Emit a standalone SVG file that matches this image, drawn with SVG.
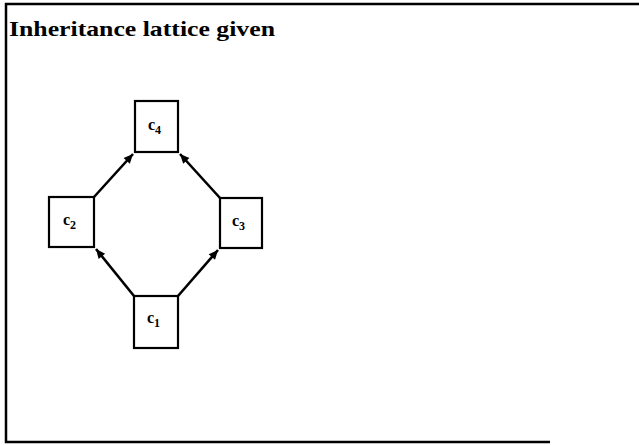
<svg xmlns="http://www.w3.org/2000/svg" width="639" height="445" viewBox="0 0 639 445">
<style>
.frame{fill:none;stroke:#000;stroke-width:2.5}
.box{fill:#fff;stroke:#000;stroke-width:2.2}
.edge{stroke:#000;stroke-width:2.6;fill:none;marker-end:url(#ah)}
.title{font-family:"Liberation Serif",serif;font-weight:bold;font-size:22px;fill:#000}
.lbl{font-family:"Liberation Serif",serif;font-weight:bold;font-size:16px;fill:#000}
.sub{font-size:12px}
</style>
<defs>
<marker id="ah" viewBox="0 0 10 10" refX="10" refY="5" markerWidth="4" markerHeight="3.6" orient="auto" markerUnits="strokeWidth">
<path d="M0,0.5 L10,5 L0,9.5 z" fill="#000"/>
</marker>
</defs>
<rect width="639" height="445" fill="#fff"/>
<path class="frame" d="M639,4 H6 V442 H550"/>
<text class="title" x="9" y="36" textLength="266" lengthAdjust="spacingAndGlyphs">Inheritance lattice given</text>
<g id="connectors">
<line class="edge" x1="134" y1="296" x2="96" y2="249"/>
<line class="edge" x1="178" y1="296" x2="218" y2="250"/>
<line class="edge" x1="94" y1="197" x2="133" y2="154"/>
<line class="edge" x1="220" y1="198" x2="180" y2="154"/>
</g>
<g id="c4"><rect class="box" x="135" y="101" width="43" height="51"/><text class="lbl" x="148" y="130">c<tspan class="sub" dy="4">4</tspan></text></g>
<g id="c2"><rect class="box" x="49" y="197" width="45" height="50"/><text class="lbl" x="63" y="225">c<tspan class="sub" dy="4">2</tspan></text></g>
<g id="c3"><rect class="box" x="220" y="198" width="42" height="50"/><text class="lbl" x="232" y="226">c<tspan class="sub" dy="4">3</tspan></text></g>
<g id="c1"><rect class="box" x="134" y="296" width="44" height="52"/><text class="lbl" x="147" y="323">c<tspan class="sub" dy="4">1</tspan></text></g>
</svg>
